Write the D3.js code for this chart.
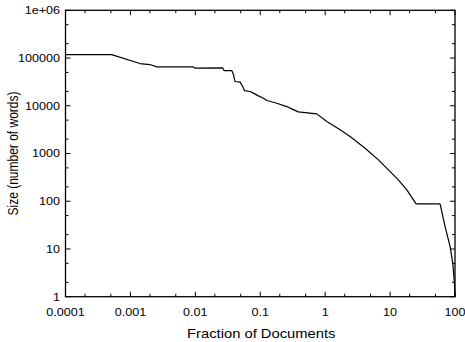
<!DOCTYPE html>
<html><head><meta charset="utf-8">
<script src="https://cdn.jsdelivr.net/npm/d3@7"></script>
<style>
html,body{margin:0;padding:0;background:#fff;overflow:hidden;}
text{font-family:"Liberation Sans",Arial,Helvetica,sans-serif;fill:#000;}
</style></head>
<body>
<svg id="c" width="465" height="342"></svg>
<script>
// Data
const fraction = [0.0001,0.000515,0.0014,0.002,0.00254,0.0093,0.0099,0.0264,0.0277,0.0364,0.0385,0.0409,0.0489,0.0537,0.0569,0.0697,0.0783,0.0936,0.112,0.126,0.180,0.256,0.305,0.386,0.741,1.06,1.70,2.42,4.12,6.61,13.4,18.1,25.2,58.9,70.4,84.1,92.5,97.9,100];
const size = [118000,118000,76700,73100,65400,65000,61400,62000,54700,54700,45900,32200,31300,25300,20800,19900,18400,16100,14400,12900,11300,9620,8610,7450,6760,4670,3130,2260,1290,734,280,173,88,88,29.4,11.2,5.0,1.91,1];
const xTickValues = [0.0001,0.001,0.01,0.1,1,10,100];
const xTickLabels = ["0.0001","0.001","0.01","0.1","1","10","100"];
const yTickValues = [1,10,100,1000,10000,100000,1000000];
const yTickLabels = ["1","10","100","1000","10000","100000","1e+06"];
const xTitle = "Fraction of Documents";
const yTitle = "Size (number of words)";

const L=65.5, R=455, T=10.3, B=296.7;
const SX=1.2;
const svg=d3.select("#c");
const x=d3.scaleLog().domain([0.0001,100]).range([L,R]);
const y=d3.scaleLog().domain([1,1e6]).range([B,T]);

const minorX=[], minorY=[];
xTickValues.slice(0,-1).forEach(v=>{minorX.push(v*2,v*5);});
yTickValues.slice(0,-1).forEach(v=>{minorY.push(v*2,v*5);});

const tg=svg.append("g").attr("stroke","#000").attr("stroke-width",1);
function hticks(vals,len){
  vals.forEach(v=>{
    const px=x(v);
    tg.append("line").attr("x1",px).attr("x2",px).attr("y1",B).attr("y2",B-len);
    tg.append("line").attr("x1",px).attr("x2",px).attr("y1",T).attr("y2",T+len);
  });
}
function vticks(vals,len){
  vals.forEach(v=>{
    const py=y(v);
    tg.append("line").attr("y1",py).attr("y2",py).attr("x1",L).attr("x2",L+len);
    tg.append("line").attr("y1",py).attr("y2",py).attr("x1",R).attr("x2",R-len);
  });
}
hticks(xTickValues,5); hticks(minorX,3);
vticks(yTickValues,5); vticks(minorY,3);

svg.append("rect").attr("x",L).attr("y",T).attr("width",R-L).attr("height",B-T)
  .attr("fill","none").attr("stroke","#000").attr("stroke-width",1.3);

const line=d3.line().x((d,i)=>x(fraction[i])).y((d,i)=>y(size[i]));
svg.append("path").datum(size).attr("d",line).attr("fill","none")
  .attr("stroke","#000").attr("stroke-width",1.2).attr("stroke-linejoin","round");

// tick labels
xTickValues.forEach((v,i)=>{
  svg.append("text").attr("transform",`translate(${x(v)},316) scale(${SX},1)`)
    .attr("text-anchor","middle").attr("font-size","10.5px").text(xTickLabels[i]);
});
yTickValues.forEach((v,i)=>{
  svg.append("text").attr("transform",`translate(60,${y(v)+3.8}) scale(${SX},1)`)
    .attr("text-anchor","end").attr("font-size","10.5px").text(yTickLabels[i]);
});
svg.append("text").attr("transform",`translate(${(L+R)/2+1},338) scale(${SX},1)`)
  .attr("text-anchor","middle").attr("font-size","12.3px").text(xTitle);
svg.append("text").attr("transform",`translate(17.5,${(T+B)/2}) scale(${SX},1) rotate(-90)`)
  .attr("text-anchor","middle").attr("font-size","12px").text(yTitle);
</script>
</body></html>
